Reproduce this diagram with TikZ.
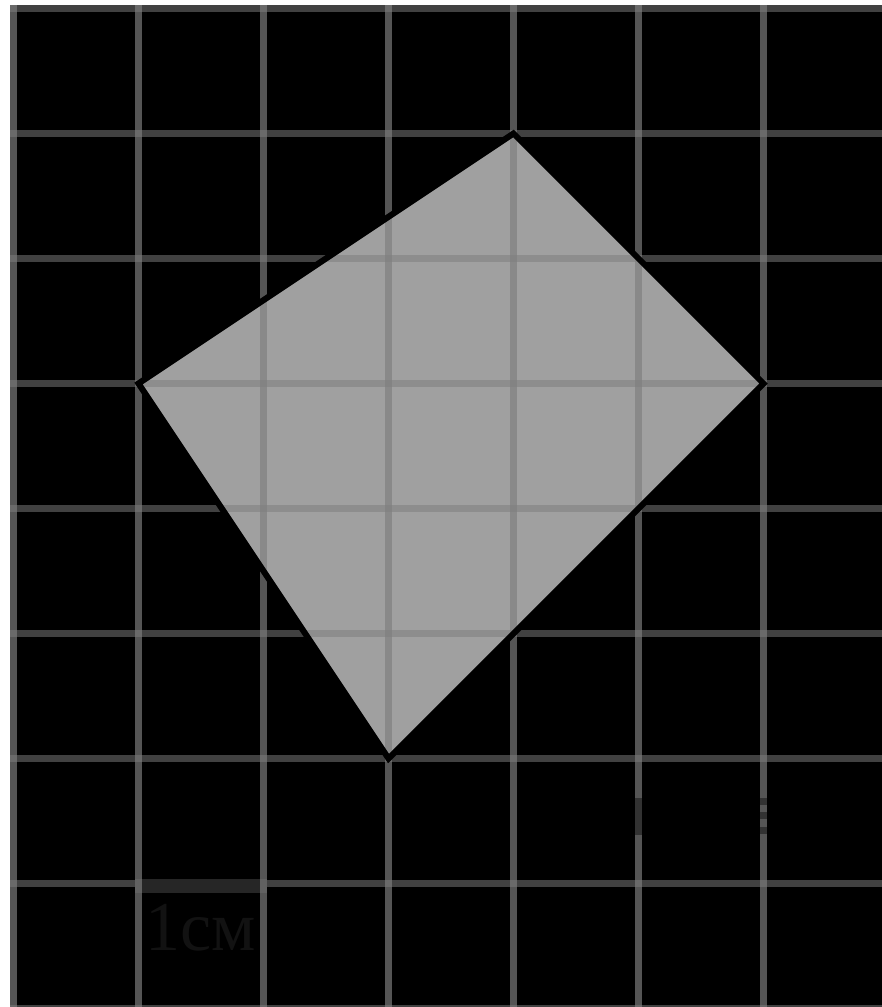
\documentclass[tikz,border=0pt]{standalone}
\usepackage{fontspec}
\newfontfamily\labelfont{Liberation Serif}
\begin{document}
\begin{tikzpicture}[x=1pt,y=-1pt,
  gridv/.style={line width=7pt,color={rgb,255:red,127;green,127;blue,127},draw opacity=0.67},
  gridh/.style={line width=7pt,color={rgb,255:red,125;green,125;blue,125},draw opacity=0.52},
  shape fill/.style={fill={rgb,255:red,160;green,160;blue,160}},
  outline/.style={draw=black,line width=6pt,line join=miter},
  scalebar/.style={fill={rgb,255:red,38;green,38;blue,38}},
  marks/.style={fill={rgb,255:red,50;green,50;blue,50}},
  lbl/.style={text={rgb,255:red,18;green,18;blue,18},font=\labelfont\fontsize{70}{70}\selectfont,inner sep=0pt,anchor=base}]
\useasboundingbox (0,0) rectangle (882,1007);
\fill[white] (0,0) rectangle (882,1007);
\fill[black] (10,5) rectangle (882,1007);
% vertices of the quadrilateral (grid: x=13.5+125i, y=8.5+125j)
\coordinate (A) at (513.5,133.5);
\coordinate (B) at (763.5,383.5);
\coordinate (C) at (388.5,758.5);
\coordinate (D) at (138.5,383.5);
\fill[shape fill] (A) -- (B) -- (C) -- (D) -- cycle;
% horizontal grid lines
\foreach \j in {0,...,8} {
  \draw[gridh] (10,8.5+125*\j) -- (882,8.5+125*\j);
}
% scale bar
\fill[scalebar] (135,879) rectangle (267,893);
% vertical grid lines
\foreach \i in {0,...,6} {
  \draw[gridv] (13.5+125*\i,5) -- (13.5+125*\i,1007);
}
% faint marks
\fill[marks] (634.5,798) rectangle (641.5,835);
\fill[marks] (759.5,798) rectangle (766.5,805);
\fill[marks] (759.5,812) rectangle (766.5,819);
\fill[marks] (759.5,827) rectangle (766.5,834);
% outline
\draw[outline] (A) -- (B) -- (C) -- (D) -- cycle;
\node[lbl] (label) at (201,950) {1см};
\end{tikzpicture}
\end{document}
